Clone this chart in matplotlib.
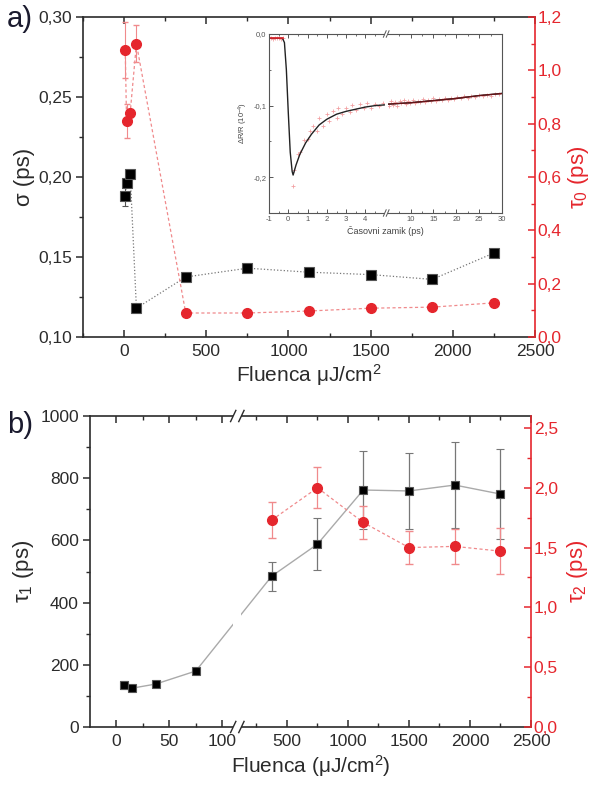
import numpy as np
import matplotlib
matplotlib.use("Agg")
import matplotlib.pyplot as plt
from matplotlib.ticker import FixedLocator, FuncFormatter, MultipleLocator
from matplotlib.patches import Rectangle
from matplotlib.lines import Line2D

plt.rcParams['font.family'] = ['Liberation Sans', 'DejaVu Sans']
plt.rcParams['mathtext.fontset'] = 'custom'
plt.rcParams['mathtext.rm'] = 'Liberation Sans'
plt.rcParams['mathtext.it'] = 'Liberation Sans:italic'
plt.rcParams['mathtext.sf'] = 'Liberation Sans'

RED = '#e5262d'
PINK = '#f08a8c'
DARK = '#2b2b2b'
TICK_FS = 12.5

# --- a) sigma and tau0 vs fluence ---
flu_a = [7, 15, 37, 75, 375, 750, 1125, 1500, 1875, 2250]
sigma = [0.188, 0.196, 0.202, 0.118, 0.1375, 0.143, 0.1405, 0.139, 0.136, 0.1525]
sigma_err = [0.006, 0.002, 0.001, 0.002, 0, 0, 0, 0, 0, 0]
tau0 = [1.076, 0.81, 0.84, 1.10, 0.09, 0.09, 0.0975, 0.108, 0.112, 0.128]
tau0_err = [0.105, 0.065, 0.015, 0.07, 0, 0, 0, 0, 0, 0]

# --- inset: transient reflectivity ---
fit_t1 = [-1, -0.3, -0.2, -0.1, 0.0, 0.1, 0.2, 0.25, 0.4, 0.6, 0.9, 1.2, 1.6,
          2.0, 2.5, 3.0, 3.5, 4.0, 4.5, 5.0]
fit_r1 = [-0.006, -0.006, -0.012, -0.05, -0.11, -0.165, -0.192, -0.197, -0.183,
          -0.168, -0.152, -0.140, -0.127, -0.119, -0.112, -0.108, -0.105, -0.102,
          -0.100, -0.099]
fit_t2 = [5.01, 10, 15, 20, 25, 30]
fit_r2 = [-0.098, -0.096, -0.093, -0.090, -0.086, -0.083]
meas_t1 = [-1.0, -0.9, -0.8, -0.7, -0.6, -0.5, -0.4, -0.3, 0.22, 0.3, 0.5, 0.6,
           0.8, 1.0, 1.1, 1.3, 1.5, 1.6, 1.8, 2.0, 2.1, 2.3, 2.5, 2.6, 2.8, 3.0,
           3.2, 3.3, 3.5, 3.7, 3.9, 4.1, 4.3, 4.5, 4.7, 4.9]
meas_r1 = [-0.006, -0.005, -0.007, -0.006, -0.005, -0.006, -0.007, -0.006,
           -0.212, -0.190, -0.168, -0.165, -0.148, -0.146, -0.135, -0.128,
           -0.136, -0.118, -0.128, -0.112, -0.122, -0.108, -0.118, -0.104,
           -0.112, -0.103, -0.109, -0.099, -0.106, -0.098, -0.104, -0.097,
           -0.103, -0.098, -0.101, -0.097]
meas_t2 = [5.3, 5.8, 6.2, 6.7, 7.1, 7.6, 8.0, 8.5, 9.0, 9.4, 9.9, 10.5, 11.0,
           11.6, 12.1, 12.7, 13.2, 13.8, 14.4, 15.0, 15.6, 16.2, 16.8, 17.5,
           18.1, 18.8, 19.5, 20.2, 21.0, 21.7, 22.5, 23.3, 24.1, 25.0, 25.8,
           26.7, 27.6, 28.5, 29.4]
meas_r2 = [-0.101, -0.094, -0.099, -0.095, -0.100, -0.093, -0.097, -0.092,
           -0.098, -0.094, -0.096, -0.092, -0.097, -0.093, -0.095, -0.091,
           -0.095, -0.092, -0.094, -0.090, -0.094, -0.091, -0.092, -0.089,
           -0.092, -0.089, -0.091, -0.088, -0.090, -0.087, -0.089, -0.087,
           -0.088, -0.085, -0.087, -0.085, -0.086, -0.084, -0.084]

# --- b) tau1 and tau2 vs fluence ---
flu_b = [7, 15, 37, 75, 375, 750, 1125, 1500, 1875, 2250]
tau1 = [135, 125, 138, 180, 485, 588, 762, 759, 778, 749]
tau1_err = [12, 6, 6, 8, 47, 84, 125, 122, 138, 145]
flu_b2 = [375, 750, 1125, 1500, 1875, 2250]
tau2 = [1.73, 2.00, 1.71, 1.50, 1.51, 1.47]
tau2_err = [0.15, 0.17, 0.14, 0.135, 0.145, 0.19]


def broken(xb, gap, r):
    # piecewise linear scale: slope 1 up to xb, then a gap, then slope r
    def fwd(x):
        x = np.asarray(x, dtype=float)
        return np.where(x <= xb, x, xb + gap + (x - xb) * r)

    def inv(u):
        u = np.asarray(u, dtype=float)
        return np.where(u <= xb, u,
                        np.where(u < xb + gap, xb, xb + (u - xb - gap) / r))
    return fwd, inv


def comma(fmt):
    return FuncFormatter(lambda v, p: (fmt % v).replace('.', ','))


def break_marks(ax, f0, f1, h, w, color, lw):
    # white gap across the axes plus "//" on top and bottom spines
    ax.add_patch(Rectangle((f0, -0.02), f1 - f0, 1.04, transform=ax.transAxes,
                           facecolor='white', edgecolor='none', zorder=10,
                           clip_on=False))
    for y in (0, 1):
        for f in (f0, f1):
            ax.add_line(Line2D([f - w, f + w], [y - h, y + h], color=color,
                               lw=lw, transform=ax.transAxes, zorder=11,
                               clip_on=False))


def style_pair(ax, ax2):
    for s in ('left', 'top', 'bottom'):
        ax.spines[s].set_color(DARK)
        ax.spines[s].set_linewidth(1.2)
    ax.spines['right'].set_visible(False)
    for s in ('left', 'top', 'bottom'):
        ax2.spines[s].set_visible(False)
    ax2.spines['right'].set_color(RED)
    ax2.spines['right'].set_linewidth(1.2)
    ax.tick_params(axis='x', which='both', direction='in', top=True,
                   colors=DARK, labelsize=TICK_FS, pad=5)
    ax.tick_params(axis='x', which='major', length=5, width=1.1)
    ax.tick_params(axis='x', which='minor', length=3, width=1.0)
    ax.tick_params(axis='y', which='both', direction='out', colors=DARK,
                   labelsize=TICK_FS, pad=3)
    ax.tick_params(axis='y', which='major', length=5, width=1.1)
    ax.tick_params(axis='y', which='minor', length=3, width=1.0)
    ax2.tick_params(axis='y', which='both', direction='in', colors=RED,
                    labelsize=TICK_FS, pad=2)
    ax2.tick_params(axis='y', which='major', length=5, width=1.1)
    ax2.tick_params(axis='y', which='minor', length=3, width=1.0)


fig = plt.figure(figsize=(5.98, 7.87), dpi=100)

# ---------------- panel a ----------------
ax = fig.add_axes([83 / 598, 1 - 337 / 787, 452 / 598, 320 / 787])
ax2 = ax.twinx()
ax.set_xlim(-250, 2500)
ax.set_ylim(0.10, 0.30)
ax2.set_ylim(0, 1.2)
ax.xaxis.set_major_locator(MultipleLocator(500))
ax.xaxis.set_minor_locator(MultipleLocator(250))
ax.yaxis.set_major_locator(MultipleLocator(0.05))
ax.yaxis.set_minor_locator(MultipleLocator(0.025))
ax.yaxis.set_major_formatter(comma('%.2f'))
ax2.yaxis.set_major_locator(MultipleLocator(0.2))
ax2.yaxis.set_minor_locator(MultipleLocator(0.1))
ax2.yaxis.set_major_formatter(comma('%.1f'))
style_pair(ax, ax2)

ax.errorbar(flu_a, sigma, yerr=sigma_err, fmt='s', ms=6.5, color='black',
            mec='#555555', mew=0.8, ecolor='#555555', elinewidth=0.8,
            capsize=2.5, zorder=4)
ax.plot(flu_a, sigma, ':', color='#777777', lw=0.9, zorder=3)
ax2.plot(flu_a, tau0, '--', color=PINK, lw=0.9, dashes=(2.5, 2), zorder=3)
ax2.errorbar(flu_a, tau0, yerr=tau0_err, fmt='o', ms=7, color=RED,
             mec=RED, ecolor=PINK, elinewidth=0.8, capsize=2.5, zorder=4)

ax.set_xlabel('Fluenca μJ/cm$^2$', fontsize=15, color=DARK, labelpad=2)
ax.set_ylabel('σ (ps)', fontsize=16, color=DARK, labelpad=2)
ax2.set_ylabel('τ$_0$ (ps)', fontsize=16, color=RED, labelpad=3)

# ---------------- inset ----------------
ins = fig.add_axes([269 / 598, 1 - 213 / 787, 233 / 598, 179 / 787])
f_in, i_in = broken(5.0, 0.15, 0.237)
ins.set_xscale('function', functions=(f_in, i_in))
ins.set_xlim(-1, 30)
ins.set_ylim(-0.25, 0.0)
ins.xaxis.set_major_locator(FixedLocator([-1, 0, 1, 2, 3, 4, 10, 15, 20, 25, 30]))
ins.xaxis.set_minor_locator(FixedLocator(
    [-0.5, 0.5, 1.5, 2.5, 3.5, 4.5, 7.5, 12.5, 17.5, 22.5, 27.5]))
ins.xaxis.set_major_formatter(FuncFormatter(lambda v, p: '%d' % round(v)))
ins.yaxis.set_major_locator(MultipleLocator(0.1))
ins.yaxis.set_minor_locator(MultipleLocator(0.05))
ins.yaxis.set_major_formatter(comma('%.1f'))
for s in ins.spines.values():
    s.set_color('#555555')
    s.set_linewidth(0.8)
ins.tick_params(which='both', direction='in', top=True, right=False,
                colors='#555555', labelsize=5.5, pad=2)
ins.tick_params(which='major', length=3, width=0.7)
ins.tick_params(which='minor', length=1.5, width=0.6)
ins.plot(meas_t1, meas_r1, '+', color=PINK, ms=2.5, mew=0.6, alpha=0.8)
ins.plot(meas_t2, meas_r2, '+', color=PINK, ms=2.5, mew=0.6, alpha=0.8)
ins.plot(fit_t1, fit_r1, '-', color='#222222', lw=1.0)
ins.plot(fit_t2, fit_r2, '-', color='#222222', lw=1.0)
ins.plot(fit_t1[:2], fit_r1[:2], '-', color=RED, lw=1.2)
ins.plot(fit_t2, fit_r2, '-', color='#6b1216', lw=0.9)
ins.set_xlabel('Časovni zamik (ps)', fontsize=6.5, color='#444444', labelpad=2)
ins.set_ylabel('ΔR/R (10$^{-4}$)', fontsize=5.5, color='#444444', labelpad=2)
u0 = (f_in(5.0) + 1) / (f_in(30) + 1)
u1 = (f_in(5.0) + 0.15 + 1) / (f_in(30) + 1)
break_marks(ins, u0, u1, 0.018, 0.006, '#555555', 0.7)

# ---------------- panel b ----------------
bx = fig.add_axes([90 / 598, 1 - 727 / 787, 441 / 598, 311 / 787])
bx2 = bx.twinx()
XB, GAP, R = 112.0, 4.4, 0.1153
f_b, i_b = broken(XB, GAP, R)
bx.set_xscale('function', functions=(f_b, i_b))
bx.set_xlim(-25, 2500)
bx.set_ylim(0, 1000)
bx2.set_ylim(0, 2.6)
bx.xaxis.set_major_locator(FixedLocator([0, 50, 100, 500, 1000, 1500, 2000, 2500]))
bx.xaxis.set_minor_locator(FixedLocator([25, 75, 250, 750, 1250, 1750, 2250]))
bx.xaxis.set_major_formatter(FuncFormatter(lambda v, p: '%d' % round(v)))
bx.yaxis.set_major_locator(MultipleLocator(200))
bx.yaxis.set_minor_locator(MultipleLocator(100))
bx2.yaxis.set_major_locator(MultipleLocator(0.5))
bx2.yaxis.set_minor_locator(MultipleLocator(0.25))
bx2.yaxis.set_major_formatter(comma('%.1f'))
style_pair(bx, bx2)

bx.plot(flu_b, tau1, '-', color='#aaaaaa', lw=1.0, zorder=3)
bx.errorbar(flu_b, tau1, yerr=tau1_err, fmt='s', ms=6, color='black',
            mec='#555555', mew=0.8, ecolor='#777777', elinewidth=0.9,
            capsize=3, zorder=4)
bx2.plot(flu_b2, tau2, '--', color=PINK, lw=0.9, dashes=(2.5, 2), zorder=3)
bx2.errorbar(flu_b2, tau2, yerr=tau2_err, fmt='o', ms=7, color=RED, mec=RED,
             ecolor=PINK, elinewidth=0.9, capsize=3, zorder=4)

bx.set_xlabel('Fluenca (μJ/cm$^2$)', fontsize=15, color=DARK, labelpad=3)
bx.set_ylabel('τ$_1$ (ps)', fontsize=16, color=DARK, labelpad=3)
bx2.set_ylabel('τ$_2$ (ps)', fontsize=16, color=RED, labelpad=5)

ulo, uhi = f_b(-25), f_b(2500)
g0 = (XB - ulo) / (uhi - ulo)
g1 = (XB + GAP - ulo) / (uhi - ulo)
break_marks(bx2, g0 - 0.004, g1 + 0.004, 0.018, 0.006, DARK, 1.0)

fig.text(20 / 598, 1 - 19 / 787, 'a)', fontsize=21, color='#1a1a2e',
         ha='center', va='center')
fig.text(20 / 598, 1 - 425 / 787, 'b)', fontsize=21, color='#1a1a2e',
         ha='center', va='center')

fig.savefig('out.png', dpi=100)
